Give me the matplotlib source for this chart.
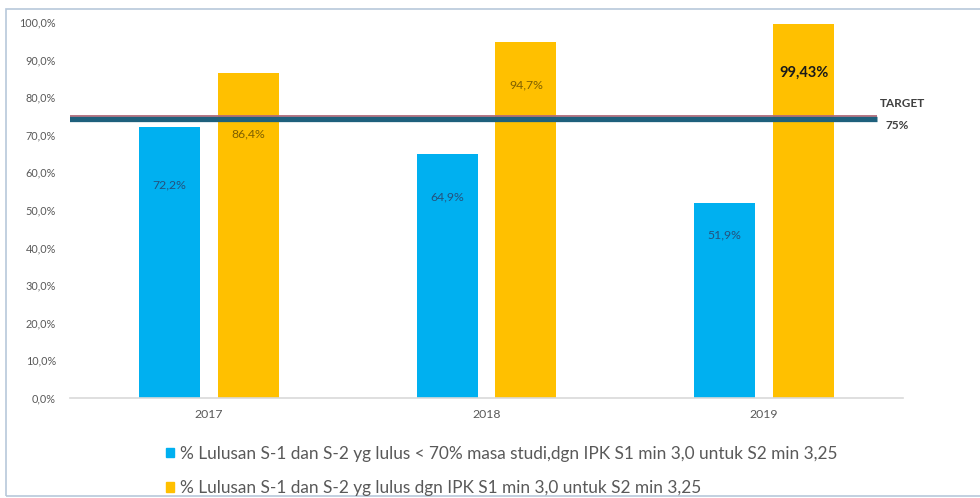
import matplotlib
matplotlib.use("Agg")
import matplotlib.pyplot as plt
import matplotlib.transforms as mtransforms
from matplotlib.patches import Rectangle, Patch
import numpy as np

plt.rcParams['font.family'] = ['Lato', 'DejaVu Sans']

years = ["2017", "2018", "2019"]
series_blue = [72.2, 64.9, 51.9]
series_yellow = [86.4, 94.7, 99.43]
labels_blue = ["72,2%", "64,9%", "51,9%"]
labels_yellow = ["86,4%", "94,7%", "99,43%"]
target = 75
yticks = [0, 10, 20, 30, 40, 50, 60, 70, 80, 90, 100]
legend_labels = [
    "% Lulusan S-1 dan S-2 yg lulus < 70% masa studi,dgn IPK S1 min 3,0 untuk S2 min 3,25",
    "% Lulusan S-1 dan S-2 yg lulus dgn IPK S1 min 3,0 untuk S2 min 3,25",
]

# label drop below bar top (in points) - styling
drop_blue = [42, 31, 23]
drop_yellow = [44, 31, 35]

BLUE = "#00B0F0"
YELLOW = "#FFC000"
TEAL = "#1E607C"
GRAY = "#595959"

fig = plt.figure(figsize=(9.8, 4.98), dpi=100)
ax = fig.add_axes([70/980, 1-398/498, (903-70)/980, (398-22)/498])

x = np.arange(len(years))
w = 0.22
off = 0.142
ax.bar(x - off, series_blue, w, color=BLUE, zorder=2)
ax.bar(x + off, series_yellow, w, color=YELLOW, zorder=2)

ax.set_xlim(-0.5, 2.5)
ax.set_ylim(0, 100)
ax.set_yticks(yticks)
ax.set_yticklabels([f"{v:.1f}%".replace('.', ',') for v in yticks])
ax.set_xticks(x)
ax.set_xticklabels(years)
ax.tick_params(axis='y', length=0, labelsize=7.8, labelcolor=GRAY, pad=10)
ax.tick_params(axis='x', length=0, labelsize=8.8, labelcolor=GRAY, pad=8)
for s in ['top', 'right', 'left']:
    ax.spines[s].set_visible(False)
ax.spines['bottom'].set_color('#D9D9D9')
ax.spines['bottom'].set_linewidth(1.2)

# target line
ytr = ax.get_yaxis_transform()
ax.plot([-0.003, 0.969], [target, target], color='#B06A7A', lw=1.3, zorder=3,
        transform=ytr, solid_capstyle='butt')
shift = mtransforms.ScaledTranslation(0, -2.5/72, fig.dpi_scale_trans)
ax.plot([-0.003, 0.969], [target, target], color=TEAL, lw=3.8, zorder=4,
        transform=ytr + shift, solid_capstyle='butt')
ax.text(2.417, target + 3.4, "TARGET", fontsize=8.5, fontweight='bold', color='#404040',
        ha='left', va='center', clip_on=False)
ax.text(2.437, target - 2.5, f"{target}%", fontsize=8.5, fontweight='bold', color='#404040',
        ha='left', va='center', clip_on=False)

# data labels
for i in range(len(years)):
    ax.annotate(labels_blue[i], (x[i] - off, series_blue[i]), xytext=(0, -drop_blue[i]),
                textcoords='offset points', ha='center', va='center',
                fontsize=8.8, color='#24527E', zorder=5)
    bold = i == 2
    ax.annotate(labels_yellow[i], (x[i] + off, series_yellow[i]), xytext=(0, -drop_yellow[i]),
                textcoords='offset points', ha='center', va='center',
                fontsize=10.5 if bold else 8.8,
                fontweight='bold' if bold else 'normal',
                color='#1A1A1A' if bold else '#7F6000', zorder=5)

handles = [Patch(color=BLUE), Patch(color=YELLOW)]
fig.legend(handles, legend_labels, loc='upper left',
           bbox_to_anchor=(166/980, 1-446/498), frameon=False, fontsize=12.4,
           labelcolor=GRAY, labelspacing=1.05, handlelength=0.45,
           handleheight=0.45, handletextpad=0.35, borderaxespad=0, borderpad=0)

# outer border
fig.patches.append(Rectangle((6/980, 2/498), 1.2, 1-11/498, transform=fig.transFigure,
                             fill=False, edgecolor='#B8C8DA', lw=1.2))

fig.savefig("out.png", dpi=100, facecolor='white')
